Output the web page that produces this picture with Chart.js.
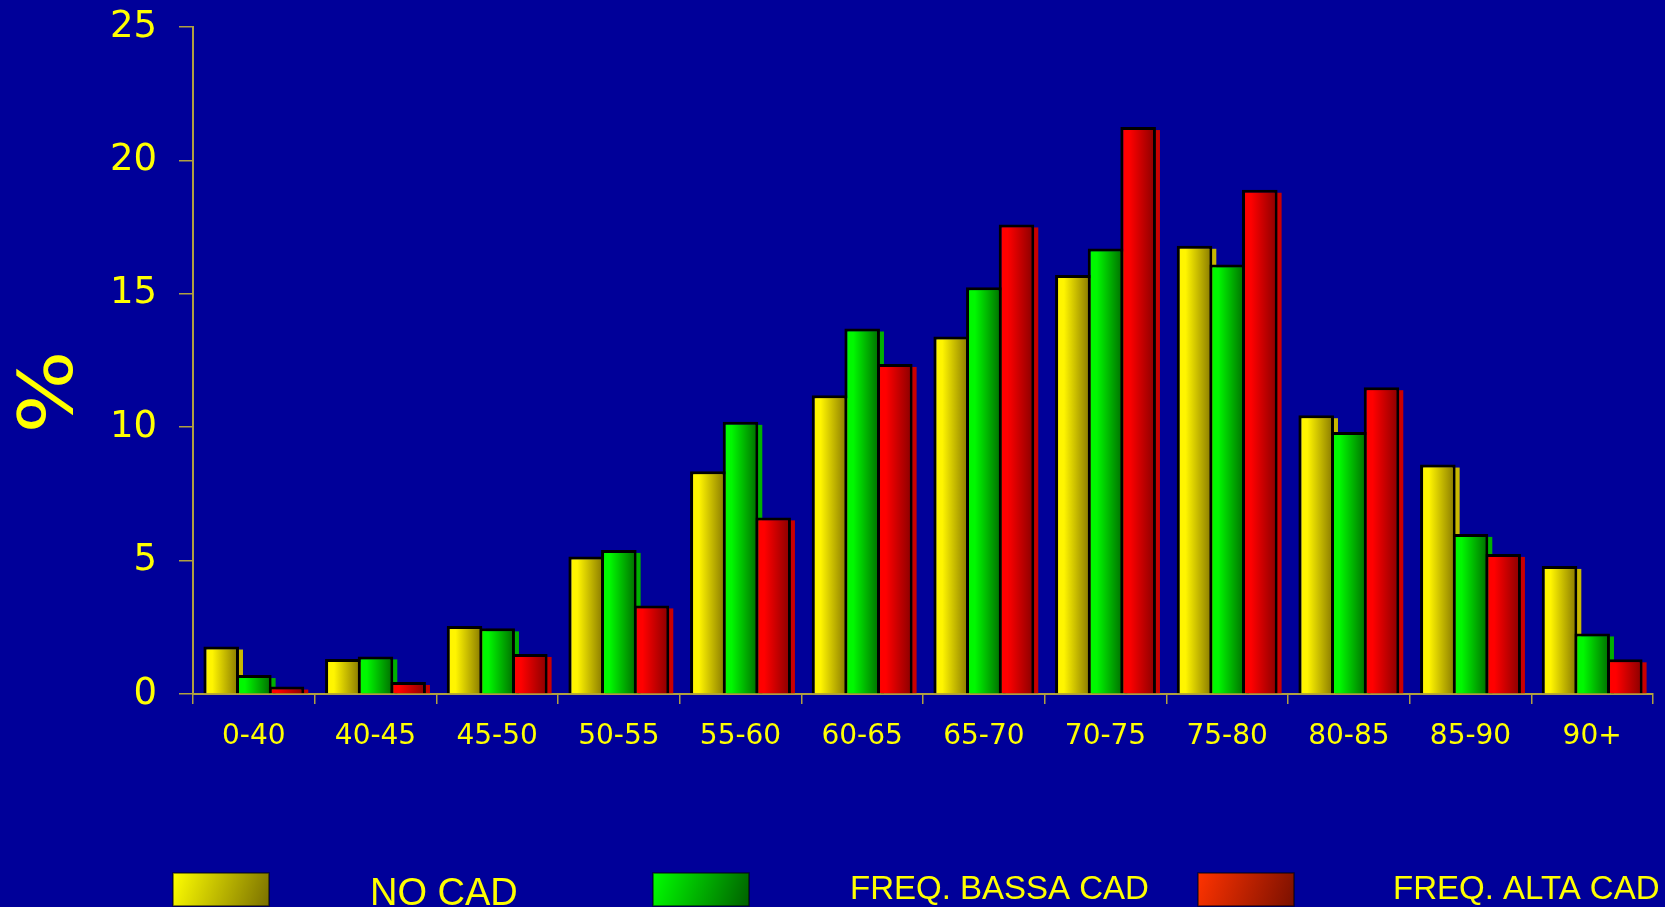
<!DOCTYPE html>
<html lang="it">
<head>
<meta charset="utf-8">
<title>Distribuzione per età</title>
<script src="https://cdn.jsdelivr.net/npm/chart.js@4/dist/chart.umd.min.js"></script>
<style>
  html, body { margin: 0; padding: 0; background: #000099; overflow: hidden; }
  canvas { display: block; }
</style>
</head>
<body>
<canvas id="grafico" width="1665" height="907"></canvas>
<script>
// classi di età e percentuali
const categorie = ['0-40', '40-45', '45-50', '50-55', '55-60', '60-65', '65-70', '70-75', '75-80', '80-85', '85-90', '90+'];
const noCad     = [1.78, 1.31, 2.55, 5.15, 8.35, 11.2, 13.4, 15.7, 16.8, 10.45, 8.6, 4.8];
const bassaCad  = [0.71, 1.41, 2.46, 5.4, 10.2, 13.7, 15.25, 16.7, 16.1, 9.82, 6.0, 2.27];
const altaCad   = [0.28, 0.45, 1.5, 3.32, 6.62, 12.37, 17.6, 21.25, 18.9, 11.5, 5.25, 1.3];
const nomiSerie = ['NO CAD', 'FREQ. BASSA CAD', 'FREQ. ALTA CAD'];

const GIALLO = '#ffff00';
const COLORE_ASSE = '#b0a040';
const CAT_PCT = 0.805;
const BAR_PCT = 1.09;

// colori: [chiaro, scuro, ombra, legenda chiaro, legenda scuro]
const PALETTE = [
  ['#fff500', '#857600', '#c8b800', '#ffff00', '#7a7000'],
  ['#00f800', '#006a00', '#00b000', '#00ff00', '#006000'],
  ['#ff0000', '#860000', '#c80000', '#ff3300', '#7a1000'],
];

// gradiente orizzontale per ogni barra, calcolato dalla scala x
function gradienteBarra(indice) {
  return (c) => {
    const cores = PALETTE[indice];
    const xs = c.chart.scales.x;
    if (c.type !== 'data' || !xs) return cores[0];
    const larghezzaCat = xs.width / categorie.length;
    const passo = larghezzaCat * CAT_PCT / 3;
    const centro = xs.getPixelForValue(c.dataIndex) + (indice - 1) * passo;
    const meta = passo * BAR_PCT / 2;
    if (!isFinite(centro)) return cores[0];
    const g = c.chart.ctx.createLinearGradient(centro - meta, 0, centro + meta, 0);
    g.addColorStop(0, cores[0]);
    g.addColorStop(0.25, cores[0]);
    g.addColorStop(1, cores[1]);
    return g;
  };
}

// ombra colorata a destra delle barre (sotto tutte le barre)
const pluginOmbra = {
  id: 'ombra',
  beforeDatasetsDraw(chart) {
    const { ctx, chartArea } = chart;
    ctx.save();
    ctx.beginPath();
    ctx.rect(chartArea.left, chartArea.top - 5, chartArea.width + 10, chartArea.height + 5);
    ctx.clip();
    chart.data.datasets.forEach((ds, i) => {
      const meta = chart.getDatasetMeta(i);
      ctx.fillStyle = PALETTE[i][2];
      meta.data.forEach((el) => {
        const { x, y, base, width } = el.getProps(['x', 'y', 'base', 'width'], true);
        ctx.fillRect(x - width / 2 + 4, y + 3, width, base - y - 3);
      });
    });
    ctx.restore();
  },
};

// titolo asse y e legenda in basso
const LEGENDA_BOX_X = [173, 653, 1198];
const LEGENDA_TESTO_X = [370, 850, 1393];
const LEGENDA_FONT = [38, 33, 33];
const LEGENDA_BASE = [905, 899, 899];

const pluginTesti = {
  id: 'testi',
  afterDraw(chart) {
    const { ctx } = chart;
    ctx.save();
    // "%"
    ctx.translate(53, 392);
    ctx.rotate(-Math.PI / 2);
    ctx.scale(1.18, 1);
    ctx.fillStyle = GIALLO;
    ctx.font = '74px "DejaVu Sans"';
    ctx.textAlign = 'center';
    ctx.textBaseline = 'middle';
    ctx.fillText('%', 0, 0);
    ctx.restore();

    ctx.save();
    chart.data.datasets.forEach((ds, i) => {
      const bx = LEGENDA_BOX_X[i], by = 873, bw = 96, bh = 33;
      const g = ctx.createLinearGradient(bx, by, bx + bw, by + bh);
      g.addColorStop(0, PALETTE[i][3]);
      g.addColorStop(1, PALETTE[i][4]);
      ctx.fillStyle = g;
      ctx.fillRect(bx, by, bw, bh);
      ctx.strokeStyle = 'rgba(0,0,0,0.6)';
      ctx.lineWidth = 1.5;
      ctx.strokeRect(bx, by, bw, bh);
      ctx.fillStyle = GIALLO;
      ctx.font = LEGENDA_FONT[i] + 'px "Liberation Sans", Arial, sans-serif';
      ctx.textAlign = 'left';
      ctx.textBaseline = 'alphabetic';
      ctx.fillText(ds.label, LEGENDA_TESTO_X[i], LEGENDA_BASE[i]);
    });
    ctx.restore();
  },
};

function creaDataset(dati, indice) {
  return {
    label: nomiSerie[indice],
    data: dati,
    backgroundColor: gradienteBarra(indice),
    borderColor: '#000000',
    borderWidth: 3,
    borderSkipped: 'bottom',
    barPercentage: BAR_PCT,
    categoryPercentage: CAT_PCT,
  };
}

new Chart(document.getElementById('grafico'), {
  type: 'bar',
  data: {
    labels: categorie,
    datasets: [creaDataset(noCad, 0), creaDataset(bassaCad, 1), creaDataset(altaCad, 2)],
  },
  options: {
    responsive: false,
    animation: false,
    layout: { padding: { top: 27, right: 12, bottom: 0, left: 0 } },
    plugins: {
      legend: { display: false },
      tooltip: { enabled: false },
    },
    scales: {
      x: {
        offset: true,
        grid: { offset: true, drawOnChartArea: false, drawTicks: true, tickLength: 10, color: COLORE_ASSE, lineWidth: 1.5 },
        border: { display: true, color: COLORE_ASSE, width: 2 },
        ticks: {
          color: GIALLO,
          font: { family: '"DejaVu Sans"', size: 28 },
          padding: 16,
          maxRotation: 0,
          autoSkip: false,
        },
        afterFit: (s) => { s.height = 213; },
      },
      y: {
        min: 0,
        max: 25,
        grid: { drawOnChartArea: false, drawTicks: true, tickLength: 14, color: COLORE_ASSE, lineWidth: 1.5 },
        border: { display: true, color: COLORE_ASSE, width: 2 },
        ticks: {
          stepSize: 5,
          color: GIALLO,
          font: { family: '"DejaVu Sans"', size: 37 },
          padding: 22,
        },
        afterFit: (s) => {
          s.width = 193;
          s.paddingTop = 0;
          s.paddingBottom = 0;
        },
      },
    },
  },
  plugins: [pluginOmbra, pluginTesti],
});
</script>
</body>
</html>
